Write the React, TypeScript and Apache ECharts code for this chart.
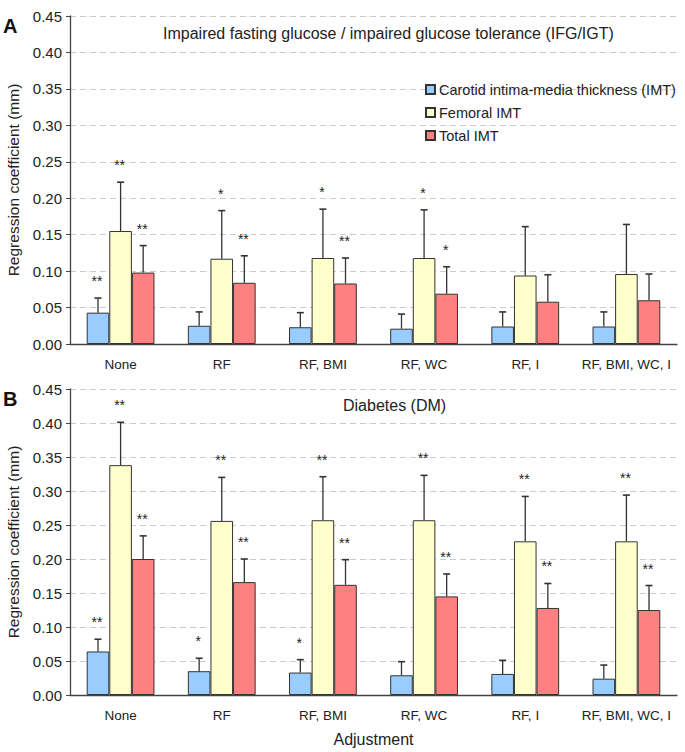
import React, { useEffect, useRef } from "react";
import * as echarts from "echarts";

const categories = ["None", "RF", "RF, BMI", "RF, WC", "RF, I", "RF, BMI, WC, I"];
const seriesNames = ["Carotid intima-media thickness (IMT)", "Femoral IMT", "Total IMT"];
const yTicks = [0, 0.05, 0.1, 0.15, 0.2, 0.25, 0.3, 0.35, 0.4, 0.45];

// Panel A: IFG/IGT
const carotidA = [0.043, 0.025, 0.023, 0.021, 0.024, 0.024];
const carotidErrA = [0.063, 0.044, 0.043, 0.041, 0.044, 0.044];
const femoralA = [0.155, 0.117, 0.118, 0.118, 0.094, 0.096];
const femoralErrA = [0.222, 0.183, 0.185, 0.184, 0.161, 0.164];
const totalA = [0.098, 0.084, 0.083, 0.069, 0.058, 0.06];
const totalErrA = [0.135, 0.121, 0.118, 0.106, 0.095, 0.096];
const carotidStarsA = ["**", "", "", "", "", ""];
const femoralStarsA = ["**", "*", "*", "*", "", ""];
const totalStarsA = ["**", "**", "**", "*", "", ""];

// Panel B: Diabetes
const carotidB = [0.064, 0.035, 0.033, 0.029, 0.031, 0.024];
const carotidErrB = [0.082, 0.054, 0.052, 0.049, 0.051, 0.044];
const femoralB = [0.338, 0.256, 0.257, 0.257, 0.226, 0.226];
const femoralErrB = [0.401, 0.32, 0.321, 0.323, 0.292, 0.294];
const totalB = [0.2, 0.166, 0.162, 0.145, 0.128, 0.125];
const totalErrB = [0.234, 0.2, 0.199, 0.178, 0.164, 0.161];
const carotidStarsB = ["**", "*", "*", "", "", ""];
const femoralStarsB = ["**", "**", "**", "**", "**", "**"];
const totalStarsB = ["**", "**", "**", "**", "**", "**"];

const colors = ["#99CCFF", "#FFFFCC", "#FF8080"];
const FONT = "'Liberation Sans', Arial, sans-serif";
const GAP = 0.33;

function buildPanel(
  idx: number,
  vals: number[][],
  errs: number[][],
  stars: string[][]
) {
  const out: any[] = [];
  vals.forEach((v, s) => {
    out.push({
      type: "bar",
      name: seriesNames[s],
      xAxisIndex: idx,
      yAxisIndex: idx,
      data: v,
      barGap: "0%",
      barCategoryGap: GAP * 100 + "%",
      itemStyle: { color: colors[s], borderColor: "#333", borderWidth: 1 },
      z: 2,
    });
  });
  const errData: number[][] = [];
  const starList: string[] = [];
  vals.forEach((v, s) => {
    v.forEach((val, c) => {
      errData.push([c, s, val, errs[s][c]]);
      starList.push(stars[s][c]);
    });
  });
  out.push({
    type: "custom",
    xAxisIndex: idx,
    yAxisIndex: idx,
    z: 5,
    silent: true,
    data: errData,
    encode: { x: 0, y: 3 },
    renderItem: (params: any, api: any) => {
      const c = api.value(0);
      const s = api.value(1);
      const v = api.value(2);
      const e = api.value(3);
      const band = api.size([1, 0])[0];
      const bw = (band * (1 - GAP)) / 3;
      const base = api.coord([c, v]);
      const top = api.coord([c, e]);
      const x = base[0] + (s - 1) * bw;
      const star = starList[params.dataIndex];
      const children: any[] = [
        {
          type: "line",
          shape: { x1: x, y1: base[1], x2: x, y2: top[1] },
          style: { stroke: "#333", lineWidth: 1.3 },
        },
        {
          type: "line",
          shape: { x1: x - 3.5, y1: top[1], x2: x + 3.5, y2: top[1] },
          style: { stroke: "#333", lineWidth: 1.6 },
        },
      ];
      if (star) {
        children.push({
          type: "text",
          x: x - 1,
          y: top[1] - 10,
          style: {
            text: star,
            fontSize: 14,
            fontFamily: FONT,
            fill: "#222",
            align: "center",
            verticalAlign: "bottom",
          },
        });
      }
      return { type: "group", children };
    },
  });
  return out;
}

export default function App() {
  const ref = useRef<HTMLDivElement>(null);
  useEffect(() => {
    if (!ref.current) return;
    const chart = echarts.init(ref.current, undefined, { renderer: "svg" });
    const yAxisCommon = (name: string) => ({
      type: "value",
      min: 0,
      max: 0.45,
      interval: 0.05,
      name,
      nameLocation: "middle",
      nameGap: 48,
      nameTextStyle: { fontSize: 15.5, color: "#222", fontFamily: FONT },
      axisLine: { show: true, lineStyle: { color: "#444", width: 1.3 } },
      axisTick: { show: true, length: 4, lineStyle: { color: "#444" } },
      axisLabel: {
        fontSize: 15,
        color: "#222",
        fontFamily: FONT,
        margin: 8,
        formatter: (v: number) => (yTicks.some((t) => Math.abs(t - v) < 1e-9) ? v.toFixed(2) : ""),
      },
      splitLine: { show: true, lineStyle: { color: "#ccc", type: [6, 4] } },
    });
    const xAxisCommon = (gi: number, name: string) => ({
      type: "category",
      gridIndex: gi,
      data: categories,
      name,
      nameLocation: "middle",
      nameGap: 36,
      nameTextStyle: { fontSize: 16, color: "#222", fontFamily: FONT },
      axisLine: { show: true, lineStyle: { color: "#444", width: 1.3 } },
      axisTick: { show: false },
      axisLabel: { fontSize: 13.5, color: "#222", fontFamily: FONT, margin: 13, interval: 0 },
    });
    chart.setOption({
      animation: false,
      backgroundColor: "#fff",
      textStyle: { fontFamily: FONT },
      grid: [
        { left: 70, right: 8, top: 16, height: 328, containLabel: false, outerBoundsMode: "none" },
        { left: 70, right: 8, top: 389, height: 306, containLabel: false, outerBoundsMode: "none" },
      ],
      xAxis: [xAxisCommon(0, ""), xAxisCommon(1, "Adjustment")],
      yAxis: [
        { ...yAxisCommon("Regression coefficient (mm)"), gridIndex: 0 },
        { ...yAxisCommon("Regression coefficient (mm)"), gridIndex: 1 },
      ],
      legend: {
        data: seriesNames,
        orient: "vertical",
        left: 425,
        top: 82,
        padding: 0,
        itemWidth: 9,
        itemHeight: 9,
        itemGap: 8,
        icon: "rect",
        textStyle: { fontSize: 14.5, color: "#222", fontFamily: FONT, padding: [0, 0, 0, -1] },
        selectedMode: false,
      },
      graphic: [
        {
          type: "text",
          left: 3,
          top: 16,
          style: { text: "A", fontSize: 20, fontWeight: "bold", fill: "#111", fontFamily: FONT },
        },
        {
          type: "text",
          left: 3,
          top: 389,
          style: { text: "B", fontSize: 20, fontWeight: "bold", fill: "#111", fontFamily: FONT },
        },
        {
          type: "text",
          left: 163,
          top: 25,
          style: {
            text: "Impaired fasting glucose / impaired glucose tolerance (IFG/IGT)",
            fontSize: 16,
            fill: "#222",
            fontFamily: FONT,
          },
        },
        {
          type: "text",
          left: 343,
          top: 397,
          style: { text: "Diabetes (DM)", fontSize: 16, fill: "#222", fontFamily: FONT },
        },
      ],
      series: [
        ...buildPanel(
          0,
          [carotidA, femoralA, totalA],
          [carotidErrA, femoralErrA, totalErrA],
          [carotidStarsA, femoralStarsA, totalStarsA]
        ),
        ...buildPanel(
          1,
          [carotidB, femoralB, totalB],
          [carotidErrB, femoralErrB, totalErrB],
          [carotidStarsB, femoralStarsB, totalStarsB]
        ),
      ],
    });
    return () => chart.dispose();
  }, []);
  return (
    <div
      ref={ref}
      style={{ position: "fixed", left: 0, top: 0, width: 685, height: 752, background: "#fff" }}
    />
  );
}
